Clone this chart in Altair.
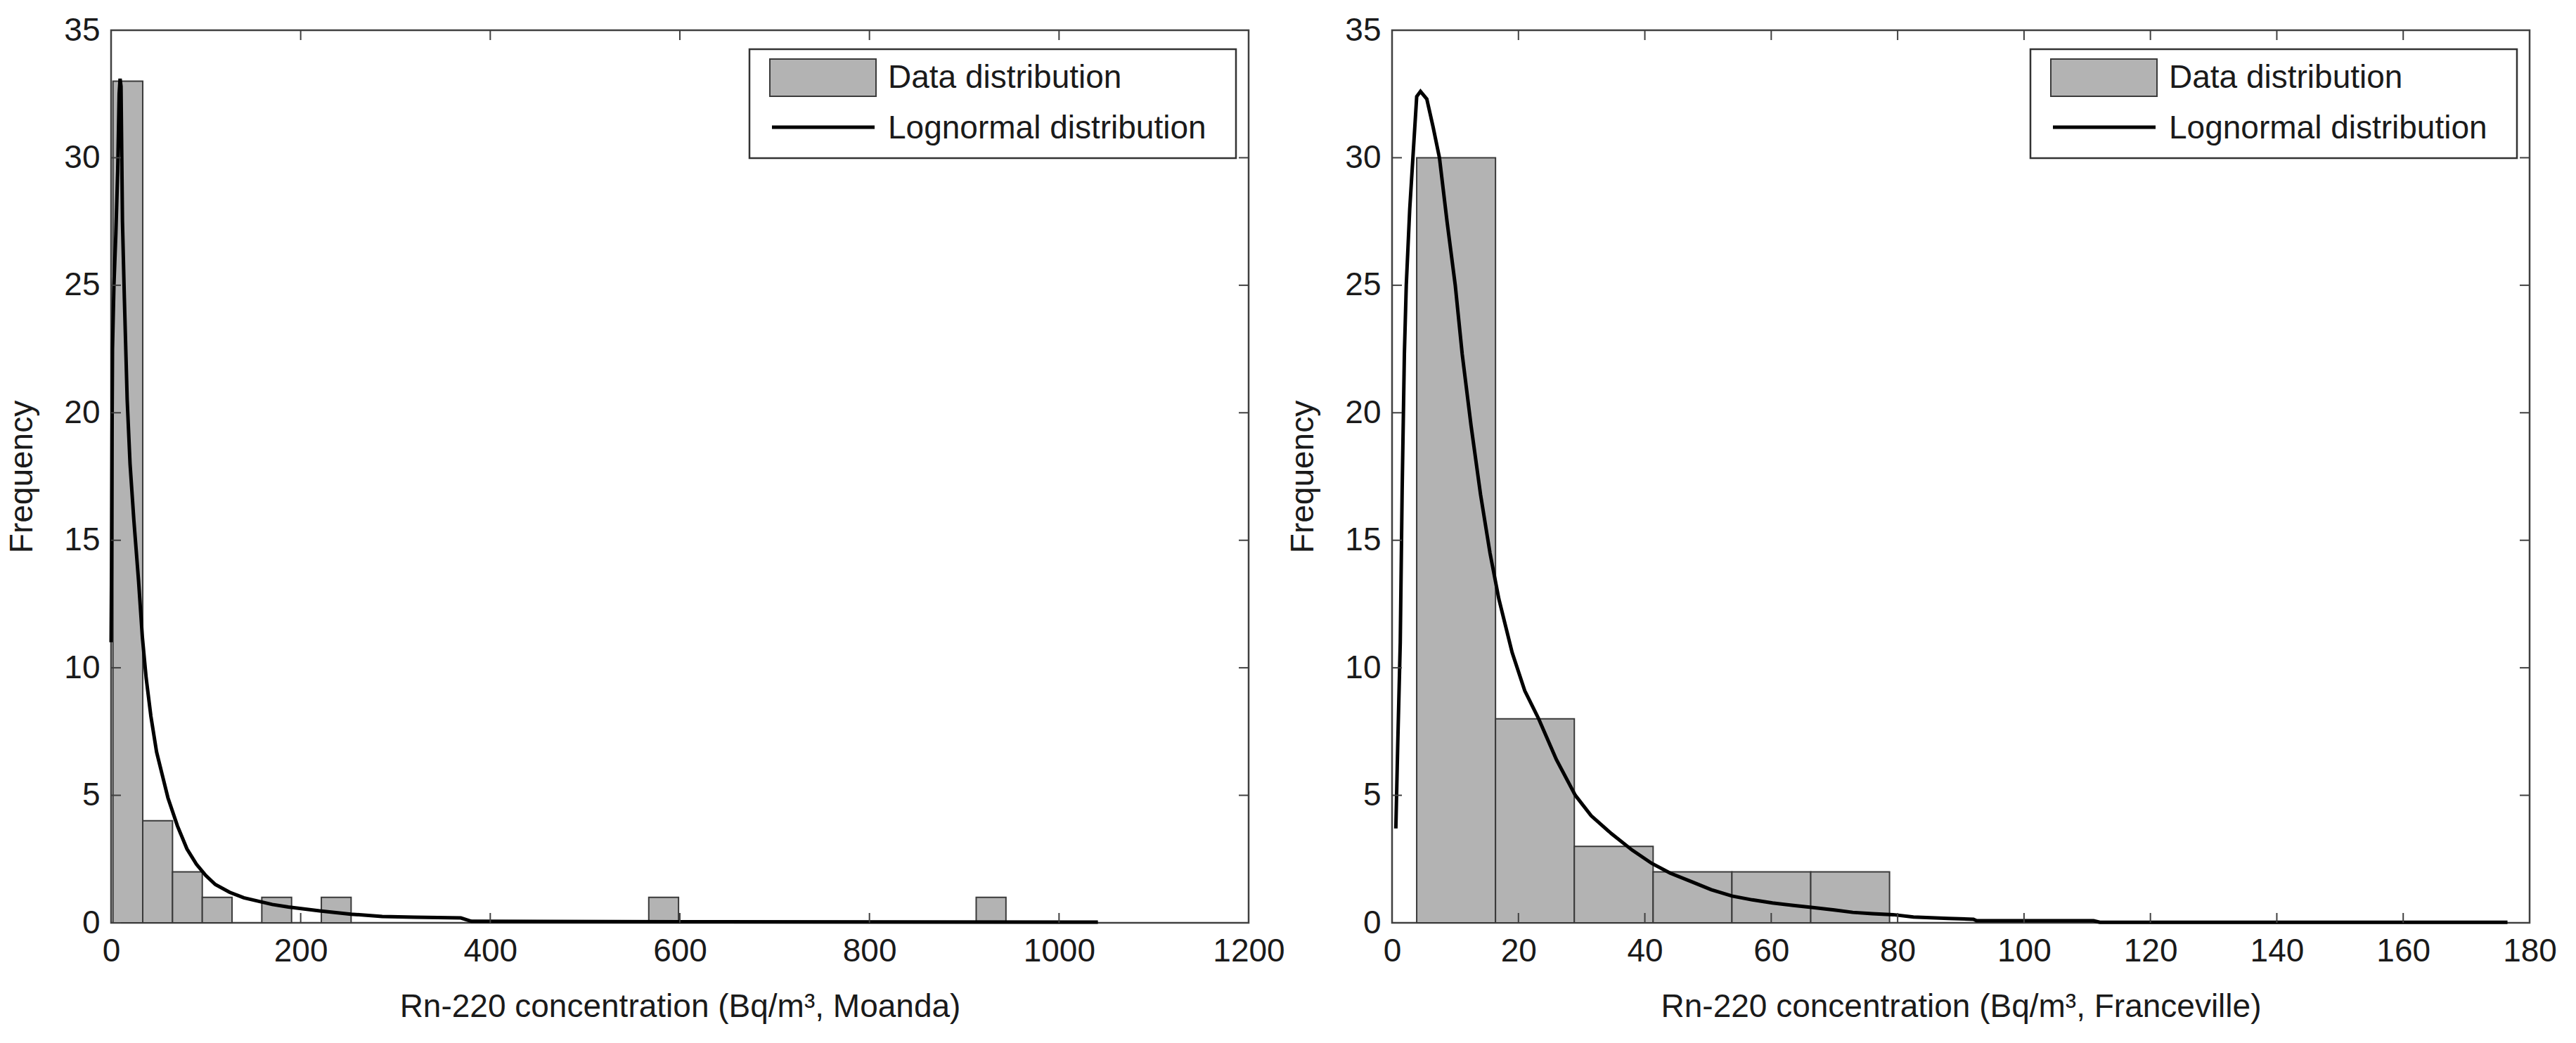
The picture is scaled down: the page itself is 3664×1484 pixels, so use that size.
import altair as alt
import pandas as pd

FONT = "Liberation Sans"
W = 1618
H = 1270

# ---------------- data ----------------
# Left panel: Moanda histogram (bin edges and counts)
moanda_edges = [2.0, 33.4, 64.8, 96.2, 127.6, 159.0, 190.4, 221.8, 253.2, 284.6,
                316.0, 347.4, 378.8, 410.2, 441.6, 473.0, 504.4, 535.8, 567.2, 598.6,
                630.0, 661.4, 692.8, 724.2, 755.6, 787.0, 818.4, 849.8, 881.2, 912.6, 944.0]
moanda_counts = [33, 4, 2, 1, 0, 1, 0, 1, 0, 0,
                 0, 0, 0, 0, 0, 0, 0, 0, 1, 0,
                 0, 0, 0, 0, 0, 0, 0, 0, 0, 1]
# Left panel: fitted lognormal curve
moanda_curve_x = [0, 0.5, 1, 1.5, 3, 5, 7, 8.5, 9.5, 10.5, 12, 14, 17, 20, 24, 29, 33, 37, 42,
                  48, 54, 60, 70, 80, 90, 100, 110, 125, 140, 155, 170, 187, 205, 220, 253,
                  286, 320, 369, 380, 600, 1041]
moanda_curve_y = [11, 14, 19, 22.5, 25, 27, 29.5, 32.5, 33.1, 32.8, 27.5, 24.5, 20.5, 18, 15.8,
                  13.4, 11.2, 9.6, 8.1, 6.7, 5.8, 4.9, 3.8, 2.9, 2.3, 1.85, 1.5, 1.2, 0.98,
                  0.85, 0.72, 0.62, 0.54, 0.47, 0.34, 0.25, 0.22, 0.19, 0.06, 0.04, 0.03]

# Right panel: Franceville histogram
franceville_edges = [3.9, 16.37, 28.84, 41.31, 53.78, 66.25, 78.72]
franceville_counts = [30, 8, 3, 2, 2, 2]
# Right panel: fitted lognormal curve
franceville_curve_x = [0.6, 0.9, 1.3, 1.6, 1.95, 2.25, 2.8, 3.3, 3.9, 4.5, 5.5, 6.5, 7.5, 8.7,
                       10, 11.1, 12.5, 14, 15.5, 16.9, 19, 21, 23.2, 26, 29, 31.5, 34.7, 38,
                       41.1, 44, 47.5, 50.5, 53.8, 57, 60.2, 63.5, 66.6, 70, 72.9, 76, 79.3,
                       82.5, 88, 92, 92.5, 111, 112, 176.5]
franceville_curve_y = [3.7, 7, 11, 17, 22.3, 25, 28, 30, 32.4, 32.6, 32.3, 31.2, 30, 27.5,
                       25, 22.3, 19.5, 16.8, 14.5, 12.7, 10.6, 9.1, 8.0, 6.4, 5.0, 4.2, 3.5,
                       2.85, 2.33, 1.95, 1.6, 1.3, 1.05, 0.9, 0.78, 0.68, 0.6, 0.5, 0.41,
                       0.36, 0.32, 0.23, 0.17, 0.14, 0.08, 0.08, 0.02, 0.02]

y_ticks = [0, 5, 10, 15, 20, 25, 30, 35]
moanda_x_ticks = [0, 200, 400, 600, 800, 1000, 1200]
franceville_x_ticks = [0, 20, 40, 60, 80, 100, 120, 140, 160, 180]

legend_labels = ["Data distribution", "Lognormal distribution"]

BAR_FILL = "#b3b3b3"
BAR_STROKE = "#3a3a3a"
AX = "#404040"
TXT = "#1a1a1a"


def panel(edges, counts, cx, cy, xticks, xtitle):
    xmax = xticks[-1]
    xs = alt.Scale(domain=[0, xmax], nice=False, zero=False)
    ys = alt.Scale(domain=[0, 35], nice=False)
    xa = alt.Axis(values=xticks, title=xtitle, format="d")
    ya = alt.Axis(values=y_ticks, title="Frequency", format="d")
    bars_df = pd.DataFrame({"lo": edges[:-1], "hi": edges[1:], "count": counts})
    bars_df = bars_df[bars_df["count"] > 0]
    curve_df = pd.DataFrame({"x": cx, "y": cy})
    xt_df = pd.DataFrame({"t": xticks})
    yt_df = pd.DataFrame({"t": y_ticks})
    one = pd.DataFrame({"a": [0]})

    bars = alt.Chart(bars_df).mark_rect(fill=BAR_FILL, stroke=BAR_STROKE, strokeWidth=2).encode(
        x=alt.X("lo:Q", scale=xs, axis=xa),
        x2="hi:Q",
        y=alt.Y("count:Q", scale=ys, axis=ya),
        y2=alt.datum(0),
    )
    curve = alt.Chart(curve_df).mark_line(color="black", strokeWidth=5).encode(
        x=alt.X("x:Q", scale=xs, axis=xa),
        y=alt.Y("y:Q", scale=ys, axis=ya),
    )
    tick_style = dict(color=AX, strokeWidth=2)
    xt_bottom = alt.Chart(xt_df).mark_rule(**tick_style).encode(
        x=alt.X("t:Q", scale=xs, axis=xa), y=alt.value(H), y2=alt.value(H - 14))
    xt_top = alt.Chart(xt_df).mark_rule(**tick_style).encode(
        x=alt.X("t:Q", scale=xs, axis=xa), y=alt.value(0), y2=alt.value(14))
    yt_left = alt.Chart(yt_df).mark_rule(**tick_style).encode(
        y=alt.Y("t:Q", scale=ys, axis=ya), x=alt.value(0), x2=alt.value(14))
    yt_right = alt.Chart(yt_df).mark_rule(**tick_style).encode(
        y=alt.Y("t:Q", scale=ys, axis=ya), x=alt.value(W - 14), x2=alt.value(W))

    box = alt.Chart(one).mark_rect(fill="white", stroke="#333333", strokeWidth=2.5).encode(
        x=alt.value(W - 710), x2=alt.value(W - 18), y=alt.value(27), y2=alt.value(182))
    swatch = alt.Chart(one).mark_rect(fill=BAR_FILL, stroke=BAR_STROKE, strokeWidth=2).encode(
        x=alt.value(W - 681), x2=alt.value(W - 530), y=alt.value(41), y2=alt.value(94))
    lline = alt.Chart(one).mark_rule(color="black", strokeWidth=5).encode(
        x=alt.value(W - 678), x2=alt.value(W - 532), y=alt.value(138))
    t1 = alt.Chart(one).mark_text(align="left", baseline="middle", font=FONT, fontSize=46,
                                  color=TXT).encode(
        x=alt.value(W - 513), y=alt.value(68), text=alt.value(legend_labels[0]))
    t2 = alt.Chart(one).mark_text(align="left", baseline="middle", font=FONT, fontSize=46,
                                  color=TXT).encode(
        x=alt.value(W - 513), y=alt.value(140), text=alt.value(legend_labels[1]))

    return alt.layer(bars, curve, xt_bottom, xt_top, yt_left, yt_right,
                     box, swatch, lline, t1, t2).properties(width=W, height=H)


left = panel(moanda_edges, moanda_counts, moanda_curve_x, moanda_curve_y,
             moanda_x_ticks, "Rn-220 concentration (Bq/m³, Moanda)")
right = panel(franceville_edges, franceville_counts, franceville_curve_x, franceville_curve_y,
              franceville_x_ticks, "Rn-220 concentration (Bq/m³, Franceville)")

chart = alt.hconcat(left, right, spacing=204, bounds="flush").properties(
    padding={"left": 7, "top": 18, "right": 10, "bottom": 10},
    background="white",
).configure_view(
    stroke=AX, strokeWidth=2.5
).configure_axis(
    domain=False, ticks=False, tickSize=0, grid=False,
    labelFont=FONT, labelFontSize=46, labelColor=TXT,
    labelFlush=False, labelOverlap=False,
    titleFont=FONT, titleFontSize=46, titleFontWeight="normal", titleColor=TXT,
).configure_axisX(
    labelPadding=18, titlePadding=34
).configure_axisY(
    labelPadding=16, titlePadding=35
)

chart.save("out.html", embed_options={"renderer": "svg", "actions": False})
